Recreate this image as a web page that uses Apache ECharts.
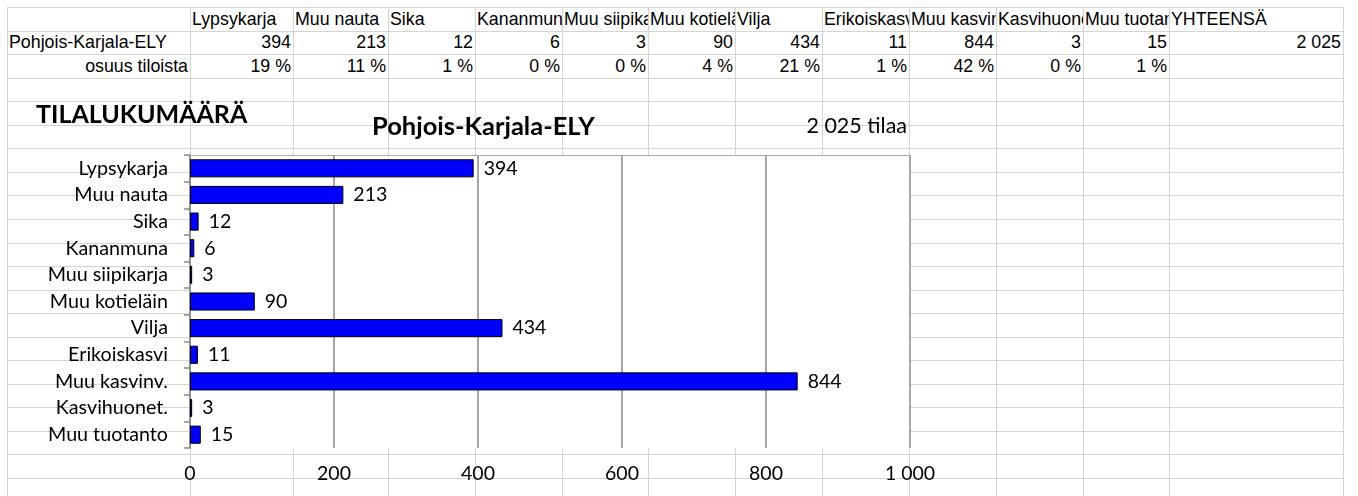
<!DOCTYPE html>
<html>
<head>
<meta charset="utf-8">
<script src="https://cdn.jsdelivr.net/npm/echarts@6/dist/echarts.min.js"></script>
<style>
  body { margin: 0; background: #fff; }
  #page { position: relative; width: 1358px; height: 496px; overflow: hidden; }
  #sheet { position: absolute; left: 0; top: 0; width: 1358px; height: 496px; }
  .cell {
    position: absolute;
    box-sizing: border-box;
    border-right: 1px solid #d4d4d4;
    border-bottom: 1px solid #d4d4d4;
    overflow: hidden;
    white-space: nowrap;
    font-family: "Liberation Sans", Arial, sans-serif;
    font-size: 17.8px;
    color: #000;
    padding: 0 2px;
  }
  .num { text-align: right; }
  #chart { position: absolute; left: 0; top: 0; width: 1358px; height: 496px; }
</style>
</head>
<body>
<div id="page">
  <div id="sheet"></div>
  <div id="chart"></div>
</div>
<script>
// data
const region = 'Pohjois-Karjala-ELY'
const categories = ['Lypsykarja', 'Muu nauta', 'Sika', 'Kananmuna', 'Muu siipikarja', 'Muu kotieläin', 'Vilja', 'Erikoiskasvi', 'Muu kasvinv.', 'Kasvihuonet.', 'Muu tuotanto']
const farmCounts = [394, 213, 12, 6, 3, 90, 434, 11, 844, 3, 15]
const sharePercent = [19, 11, 1, 0, 0, 4, 21, 1, 42, 0, 1]
const totalFarms = 2025
const totalLabel = 'YHTEENSÄ'
const shareLabel = 'osuus tiloista'
const chartTitle = 'TILALUKUMÄÄRÄ'
const axisMax = 1000
const axisStep = 200

function fmt(n) {
  return String(n).replace(/\B(?=(\d{3})+(?!\d))/g, ' ')
}

// spreadsheet background
const colX = [7, 190, 293, 388, 475, 562, 648, 735, 822, 909, 996, 1083, 1169, 1343]
const rowTop = 7
const rowH = 23.55
const sheet = document.getElementById('sheet')

function cell(c, r, text, cls) {
  const d = document.createElement('div')
  d.className = 'cell' + (cls ? ' ' + cls : '')
  const y0 = Math.round(rowTop + r * rowH)
  const y1 = Math.round(rowTop + (r + 1) * rowH)
  d.style.left = colX[c] + 'px'
  d.style.top = y0 + 'px'
  d.style.width = (colX[c + 1] - colX[c] + 1) + 'px'
  d.style.height = (y1 - y0 + 1) + 'px'
  d.style.lineHeight = (y1 - y0) + 'px'
  if (text !== undefined) d.textContent = text
  sheet.appendChild(d)
}

// outer top / left borders
const topEdge = document.createElement('div')
topEdge.style.cssText = 'position:absolute;left:' + colX[0] + 'px;top:' + rowTop + 'px;width:' + (colX[colX.length - 1] - colX[0]) + 'px;height:0;border-top:1px solid #d4d4d4'
sheet.appendChild(topEdge)
const leftEdge = document.createElement('div')
leftEdge.style.cssText = 'position:absolute;left:' + colX[0] + 'px;top:' + rowTop + 'px;width:0;height:500px;border-left:1px solid #d4d4d4'
sheet.appendChild(leftEdge)

for (let r = 0; rowTop + r * rowH < 500; r++) {
  for (let c = 0; c < colX.length - 1; c++) {
    let text
    let cls
    if (r === 0 && c >= 1) {
      text = c <= categories.length ? categories[c - 1] : totalLabel
    } else if (r === 1) {
      if (c === 0) {
        text = region
      } else {
        text = fmt(c <= categories.length ? farmCounts[c - 1] : totalFarms)
        cls = 'num'
      }
    } else if (r === 2) {
      if (c === 0) {
        text = shareLabel
        cls = 'num'
      } else if (c <= categories.length) {
        text = sharePercent[c - 1] + ' %'
        cls = 'num'
      }
    }
    cell(c, r, text, cls)
  }
}

// chart
const chart = echarts.init(document.getElementById('chart'))
const font = 'Lato'
const option = {
  backgroundColor: 'transparent',
  animation: false,
  title: [
    {
      text: chartTitle,
      left: 36,
      top: 102,
      padding: 0,
      textStyle: { fontFamily: font, fontWeight: 'bold', fontSize: 25, color: '#000' }
    },
    {
      text: region,
      left: 372,
      top: 114,
      padding: 0,
      textStyle: { fontFamily: font, fontWeight: 'bold', fontSize: 25.5, color: '#000' }
    },
    {
      text: fmt(totalFarms) + ' tilaa',
      right: 451,
      top: 115,
      padding: 0,
      textStyle: { fontFamily: font, fontWeight: 'normal', fontSize: 21.5, color: '#000' }
    }
  ],
  grid: {
    left: 190,
    right: 448,
    top: 155,
    bottom: 48,
    show: true,
    backgroundColor: '#fff',
    borderWidth: 0
  },
  xAxis: [
    {
      type: 'value',
      min: 0,
      max: axisMax,
      interval: axisStep,
      axisLine: { show: false },
      axisTick: { show: false },
      splitLine: { show: true, lineStyle: { color: '#8a8a8a', width: 1.5 } },
      axisLabel: {
        fontFamily: font,
        fontSize: 19.5,
        color: '#000',
        margin: 16,
        formatter: v => fmt(v)
      }
    },
    {
      type: 'value',
      position: 'top',
      min: 0,
      max: axisMax,
      interval: axisStep,
      axisLine: { show: true, lineStyle: { color: '#999', type: 'dotted', width: 1 } },
      axisTick: { show: false },
      axisLabel: { show: false },
      splitLine: { show: false }
    }
  ],
  yAxis: {
    type: 'category',
    inverse: true,
    data: categories,
    axisLine: { show: true, lineStyle: { color: '#8a8a8a', width: 1.5 } },
    axisTick: { show: true, length: 6, lineStyle: { color: '#8a8a8a', width: 1.5 } },
    axisLabel: { fontFamily: font, fontSize: 19.7, color: '#000', margin: 22 }
  },
  series: [
    {
      type: 'bar',
      data: farmCounts,
      barCategoryGap: '32%',
      itemStyle: { color: '#0000ff', borderColor: '#000', borderWidth: 1 },
      label: {
        show: true,
        position: 'right',
        distance: 10,
        fontFamily: font,
        fontSize: 19.5,
        color: '#000'
      }
    }
  ]
}
chart.setOption(option)
</script>
</body>
</html>
